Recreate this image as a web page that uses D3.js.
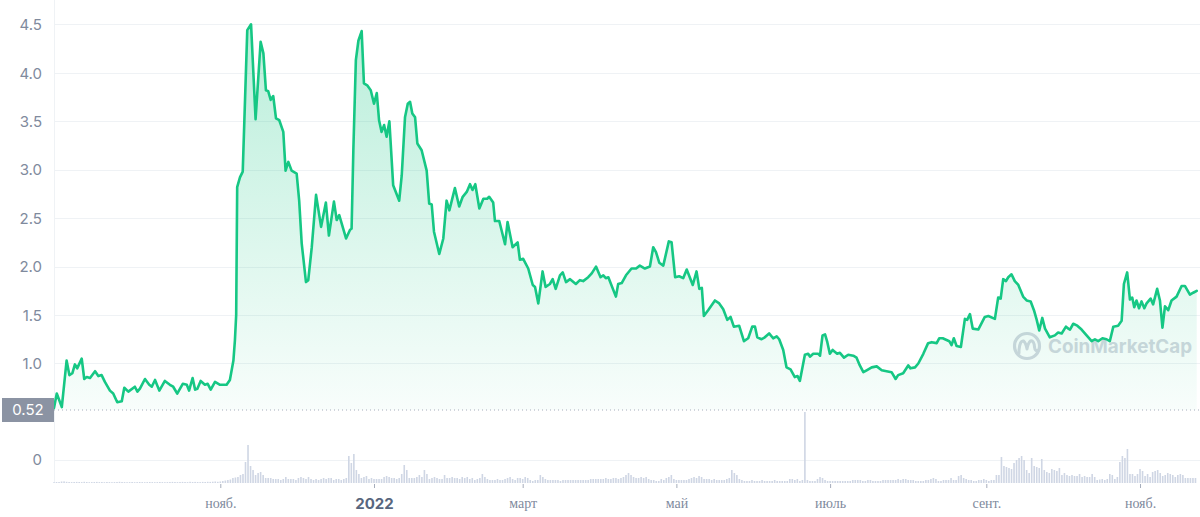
<!DOCTYPE html>
<html>
<head>
<meta charset="utf-8">
<script src="https://cdn.jsdelivr.net/npm/d3@7"></script>
<style>
  html, body { margin: 0; padding: 0; background: #ffffff; }
  svg { display: block; }
</style>
</head>
<body>
<svg id="chart" width="1200" height="517"></svg>
<script>
// ---------------- DATA ----------------
const startDay = "2021-08-27";          // day 0 of the series
const domainEndDay = 454.8;             // right edge of chart in days from start

// price points: day offset from startDay, price in USD
const priceDay = [0.0,1.1,3.1,5.0,6.1,7.3,8.3,9.2,11.0,12.0,13.0,14.3,16.3,17.6,18.9,20.2,22.2,23.5,25.1,26.9,27.9,29.5,32.1,33.1,34.1,36.1,37.8,38.8,40.1,41.8,44.0,46.0,47.3,48.9,51.1,52.7,53.6,55.0,56.0,56.9,58.2,59.9,61.0,62.2,63.9,65.9,68.5,69.8,71.2,71.8,
72.3,72.7,73.8,74.9,76.7,78.2,80.0,82.0,83.1,84.1,85.0,86.0,87.0,88.1,89.4,91.0,91.9,93.0,94.3,96.3,97.3,98.3,100.0,100.9,102.3,104.0,106.0,107.9,109.1,111.1,112.2,113.2,115.9,117.5,118.1,118.8,119.8,120.8,122.1,123.0,124.3,125.7,127.0,128.1,129.0,130.0,131.0,132.0,133.1,134.6,137.0,138.0,139.3,140.4,141.3,142.2,143.3,144.2,145.9,147.9,148.9,149.9,150.8,152.9,154.5,155.8,156.9,159.1,160.8,162.2,163.8,165.1,166.1,167.2,168.8,170.4,171.9,172.7,174.3,175.0,176.7,179.0,180.0,182.0,184.0,184.9,186.2,188.2,
190.0,190.9,192.2,193.9,195.1,196.8,197.9,199.1,200.8,201.9,203.2,204.8,207.1,208.7,210.0,212.0,213.4,215.1,216.9,218.0,219.0,220.0,223.0,223.9,225.3,227.0,229.2,231.0,232.5,234.5,236.5,237.8,238.9,240.2,241.8,244.0,245.1,246.5,248.1,249.7,251.1,253.5,255.0,256.1,257.1,257.9,259.6,262.3,264.0,265.6,267.2,268.5,269.8,271.9,273.8,275.5,277.1,278.2,
279.1,280.8,282.1,283.8,285.4,286.8,287.8,289.4,290.7,292.3,294.0,295.1,296.0,298.0,299.3,300.0,301.3,303.3,304.0,305.0,306.0,306.9,307.9,309.0,310.8,311.9,313.5,315.2,317.2,318.5,319.8,321.2,322.5,324.5,326.5,328.5,330.4,332.4,334.0,335.0,337.0,339.0,339.9,341.7,343.0,345.0,346.9,348.3,350.3,351.3,352.7,355.3,356.2,357.1,358.2,359.9,361.5,362.4,363.5,364.6,366.8,
369.4,370.8,373.4,374.7,375.7,376.7,377.8,378.7,380.0,381.3,382.7,384.6,386.0,387.6,388.9,390.0,391.0,392.2,393.3,395.2,397.2,398.5,399.9,401.6,402.5,403.2,404.5,406.1,407.8,409.8,411.8,413.1,414.4,416.1,417.7,419.0,420.4,422.3,423.7,424.6,425.9,427.0,427.9,428.7,429.6,430.6,431.6,432.7,433.6,435.2,436.2,437.8,438.9,439.9,440.9,442.2,443.5,445.5,447.5,448.8,450.8,452.1,453.5];

const priceValue = [0.54,0.69,0.55,1.03,0.88,0.90,0.99,0.95,1.05,0.84,0.86,0.85,0.92,0.87,0.88,0.81,0.72,0.69,0.60,0.61,0.75,0.71,0.76,0.71,0.74,0.84,0.78,0.76,0.83,0.72,0.82,0.78,0.76,0.69,0.79,0.78,0.72,0.85,0.73,0.74,0.82,0.78,0.79,0.73,0.81,0.78,0.78,0.83,1.03,1.24,
1.50,2.82,2.92,2.98,4.44,4.50,3.52,4.32,4.20,3.82,3.81,3.72,3.76,3.53,3.51,3.39,2.99,3.08,2.99,2.96,2.68,2.24,1.84,1.86,2.20,2.74,2.41,2.66,2.32,2.67,2.48,2.53,2.29,2.38,2.39,3.20,4.13,4.33,4.43,3.89,3.87,3.82,3.68,3.79,3.51,3.39,3.46,3.34,3.50,2.84,2.68,2.94,3.54,3.68,3.70,3.58,3.54,3.27,3.20,2.99,2.65,2.64,2.36,2.13,2.29,2.68,2.58,2.81,2.62,2.72,2.77,2.85,2.79,2.85,2.60,2.70,2.70,2.72,2.66,2.47,2.47,2.23,2.46,2.20,2.25,2.07,2.08,1.98,
1.81,1.79,1.62,1.95,1.79,1.82,1.87,1.77,1.91,1.94,1.84,1.87,1.82,1.86,1.85,1.89,1.93,2.00,1.89,1.91,1.88,1.89,1.69,1.82,1.83,1.91,1.98,1.98,2.01,1.98,2.00,2.20,2.15,2.04,2.01,2.26,2.25,1.89,1.90,1.88,1.97,1.81,1.95,1.77,1.78,1.49,1.55,1.65,1.62,1.56,1.45,1.48,1.38,1.39,1.23,1.26,1.38,1.38,
1.27,1.25,1.27,1.31,1.26,1.28,1.25,1.14,0.96,0.94,0.86,0.87,0.82,1.09,1.10,1.07,1.10,1.10,1.08,1.29,1.30,1.22,1.10,1.14,1.10,1.11,1.06,1.09,1.08,1.06,0.98,0.91,0.93,0.96,0.97,0.93,0.92,0.91,0.84,0.88,0.90,0.98,0.95,0.96,1.00,1.10,1.21,1.22,1.21,1.26,1.26,1.23,1.19,1.26,1.18,1.17,1.46,1.45,1.51,1.36,1.35,
1.48,1.49,1.46,1.68,1.67,1.87,1.85,1.89,1.92,1.85,1.81,1.69,1.65,1.64,1.55,1.45,1.34,1.47,1.36,1.27,1.29,1.32,1.31,1.38,1.36,1.35,1.41,1.39,1.35,1.29,1.23,1.25,1.23,1.26,1.25,1.23,1.38,1.39,1.44,1.82,1.94,1.66,1.68,1.58,1.65,1.57,1.64,1.57,1.62,1.67,1.61,1.77,1.65,1.37,1.59,1.55,1.65,1.69,1.80,1.80,1.71,1.73,1.75];

// daily volume (millions USD), one per day from startDay
const volume = [
0.8,1,1,1.5,1.6,1.2,1,0.9,1,1.1,
1,0.9,1.2,1,0.8,0.9,1,1.1,0.9,1,
0.8,1,0.9,0.8,0.9,1,1.2,1,0.9,0.8,
0.9,1,0.8,0.9,1,0.9,0.8,0.9,1,0.9,
0.8,0.9,1,0.9,0.8,0.9,1,1.1,1,0.9,
1,1.1,1,0.9,1.2,1,1.1,1,0.9,1.1,
1,1.2,1.1,1.3,1.5,1.2,1.5,2,2.5,3,
3.5,5,5.5,6,8,9,21,38,17,13,
8,10,11,8,5,5,5,4,4,4,
3,4,6,4,4,4,3,5,6,5,
4,6,4,3,4,3,4,5,4,5,
5,3,4,4,3,4,5,27,20,29,
13,9,5,6,7,4,5,4,4,4,
4,6,7,6,5,5,4,5,9,18,
13,5,5,5,6,8,6,13,9,4,
5,6,5,4,4,8,5,5,6,5,
5,4,6,5,6,4,5,3,4,5,
9,6,4,3,3,3,4,3,3,4,
5,6,4,3,5,5,4,6,5,3,
2,3,3,8,6,4,3,3,3,3,
3,2,3,3,3,3,3,3,3,3,
3,3,3,4,4,4,4,4,4,5,
4,4,5,5,4,5,6,8,10,8,
6,5,5,6,5,6,4,3,3,2,
2,4,3,5,6,8,4,3,3,3,
3,3,4,5,6,5,7,6,4,4,
4,3,4,3,3,3,3,4,5,13,
10,8,4,3,2,2,2,3,2,2,
2,3,2,2,2,2,3,2,2,2,
2,2,4,4,3,4,2,3,71,3,
2,2,2,4,6,5,3,2,2,2,
2,2,2,2,2,2,2,3,3,3,
3,2,2,3,3,2,2,2,2,3,
3,3,3,3,3,4,3,4,4,3,
3,3,2,2,2,2,3,3,4,5,
4,2,2,3,3,3,5,3,3,7,
8,5,4,3,3,2,2,3,3,4,
3,2,3,3,8,8,26,17,16,15,
14,20,23,25,27,23,13,10,25,17,
16,15,24,13,11,10,14,13,12,15,
8,10,8,7,8,7,7,9,6,7,
6,6,9,6,3,3.5,4,3,4,9,
8,4,6,21,27,25,34,9,9,7,
9,14,12,7,9,6,11,12,13,10,
7,8,10,9,8,6,8,9,8,5,
5,5,5,5];

const priceTicks = [1.0, 1.5, 2.0, 2.5, 3.0, 3.5, 4.0, 4.5];
const lastPriceLabel = 0.52;
const tickDates = ["2021-11-01","2022-01-01","2022-03-01","2022-05-01","2022-07-01","2022-09-01","2022-11-01"];
const tickLabels = ["нояб.","2022","март","май","июль","сент.","нояб."];

// ---------------- CHART ----------------
const svg = d3.select("#chart");
const plotLeft = 54, plotRight = 1200;
const start = new Date(startDay + "T00:00:00Z");
const toDate = d => new Date(start.getTime() + d * 864e5);

const x = d3.scaleUtc().domain([toDate(0), toDate(domainEndDay)]).range([plotLeft, plotRight]);
const y = d3.scaleLinear().domain([0.52, 4.5]).range([410, 24.3]);
const yVol = d3.scaleLinear().domain([0, 73]).range([483, 410]);

const priceData = priceDay.map((d, i) => ({ date: toDate(d), v: priceValue[i] }));

const defs = svg.append("defs");
const grad = defs.append("linearGradient").attr("id", "fillGrad")
  .attr("gradientUnits", "userSpaceOnUse").attr("x1", 0).attr("x2", 0)
  .attr("y1", y(4.5)).attr("y2", y(0.52));
grad.append("stop").attr("offset", 0).attr("stop-color", "#16c784").attr("stop-opacity", 0.3);
grad.append("stop").attr("offset", 1).attr("stop-color", "#16c784").attr("stop-opacity", 0.03);

// left vertical axis line
svg.append("line").attr("x1", plotLeft + 0.5).attr("x2", plotLeft + 0.5)
  .attr("y1", 0).attr("y2", 483).attr("stroke", "#eff2f5").attr("stroke-width", 1);

// horizontal grid
svg.append("g").selectAll("line").data(priceTicks).join("line")
  .attr("x1", plotLeft).attr("x2", plotRight)
  .attr("y1", d => Math.round(y(d)) + 0.5).attr("y2", d => Math.round(y(d)) + 0.5)
  .attr("stroke", "#eff2f5").attr("stroke-width", 1);

// volume pane grid line ("0")
svg.append("line").attr("x1", plotLeft).attr("x2", plotRight)
  .attr("y1", 460.5).attr("y2", 460.5).attr("stroke", "#eff2f5");

// y axis labels
const yAxis = d3.axisLeft(y).tickValues(priceTicks).tickFormat(d3.format(".1f")).tickSize(0).tickPadding(0);
const yg = svg.append("g").attr("transform", "translate(42,0)").call(yAxis);
yg.select(".domain").remove();
yg.selectAll("text").attr("fill", "#808a9d").attr("font-family", "Inter, 'Noto Sans', sans-serif")
  .attr("font-size", 15).attr("dy", "0.35em");

svg.append("text").attr("x", 42).attr("y", 460).attr("dy", "0.35em").attr("text-anchor", "end")
  .attr("fill", "#808a9d").attr("font-family", "Inter, 'Noto Sans', sans-serif").attr("font-size", 15)
  .text("0");

// volume bars
svg.append("g").selectAll("rect").data(volume).join("rect")
  .attr("x", (v, i) => x(toDate(i)) - 0.8)
  .attr("width", 1.6)
  .attr("y", v => yVol(v))
  .attr("height", v => yVol(0) - yVol(v))
  .attr("fill", "#cfd6e4");

// watermark
const wm = svg.append("g");
wm.append("circle").attr("cx", 1027).attr("cy", 346).attr("r", 12.5)
  .attr("fill", "none").attr("stroke", "#d3d7e0").attr("stroke-width", 3.2);
wm.append("path").attr("d", "M1019,353 L1019,350 Q1020,340 1023.5,341 Q1026,343 1027,349 Q1028,343 1030.5,341 Q1034,340 1034.5,347 Q1035,352 1038.5,350")
  .attr("fill", "none").attr("stroke", "#d3d7e0").attr("stroke-width", 3).attr("stroke-linecap", "round").attr("stroke-linejoin", "round");
wm.append("text").attr("x", 1048).attr("y", 353).attr("fill", "#d3d7e0")
  .attr("font-family", "Inter, 'Noto Sans', sans-serif").attr("font-weight", 700).attr("font-size", 19)
  .attr("textLength", 144).attr("lengthAdjust", "spacingAndGlyphs")
  .text("CoinMarketCap");

// area + line
const area = d3.area().x(d => x(d.date)).y0(y(0.52)).y1(d => y(d.v));
const line = d3.line().x(d => x(d.date)).y(d => y(d.v));
svg.append("path").datum(priceData).attr("d", area).attr("fill", "url(#fillGrad)");

// dotted reference line at last price
svg.append("line").attr("x1", plotLeft).attr("x2", plotRight)
  .attr("y1", y(lastPriceLabel)).attr("y2", y(lastPriceLabel))
  .attr("stroke", "#a6adbb").attr("stroke-width", 1).attr("stroke-dasharray", "1,3");

svg.append("path").datum(priceData).attr("d", line)
  .attr("fill", "none").attr("stroke", "#16c784").attr("stroke-width", 2.6)
  .attr("stroke-linejoin", "round").attr("stroke-linecap", "round");

// price label box
svg.append("rect").attr("x", 2).attr("y", y(lastPriceLabel) - 12).attr("width", plotLeft - 2).attr("height", 24)
  .attr("fill", "#8b93a3");
svg.append("text").attr("x", 28).attr("y", y(lastPriceLabel)).attr("dy", "0.35em").attr("text-anchor", "middle")
  .attr("fill", "#ffffff").attr("font-family", "Inter, 'Noto Sans', sans-serif").attr("font-size", 15)
  .text(d3.format(".2f")(lastPriceLabel));

// x axis
const xAxis = d3.axisBottom(x).tickValues(tickDates.map(s => new Date(s + "T00:00:00Z")))
  .tickFormat((d, i) => tickLabels[i]).tickSize(4).tickPadding(10);
const xg = svg.append("g").attr("transform", "translate(0,484)").call(xAxis);
xg.select(".domain").remove();
xg.selectAll(".tick line").attr("stroke", "#a6adbb");
xg.selectAll("text")
  .attr("fill", (d, i) => tickLabels[i] === "2022" ? "#58667e" : "#808a9d")
  .attr("font-family", (d, i) => tickLabels[i] === "2022" ? "Inter, 'Noto Sans', sans-serif" : "'Liberation Serif', 'DejaVu Serif', serif")
  .attr("font-weight", (d, i) => tickLabels[i] === "2022" ? 700 : 400)
  .attr("font-size", (d, i) => tickLabels[i] === "2022" ? 15 : 14);
</script>
</body>
</html>
